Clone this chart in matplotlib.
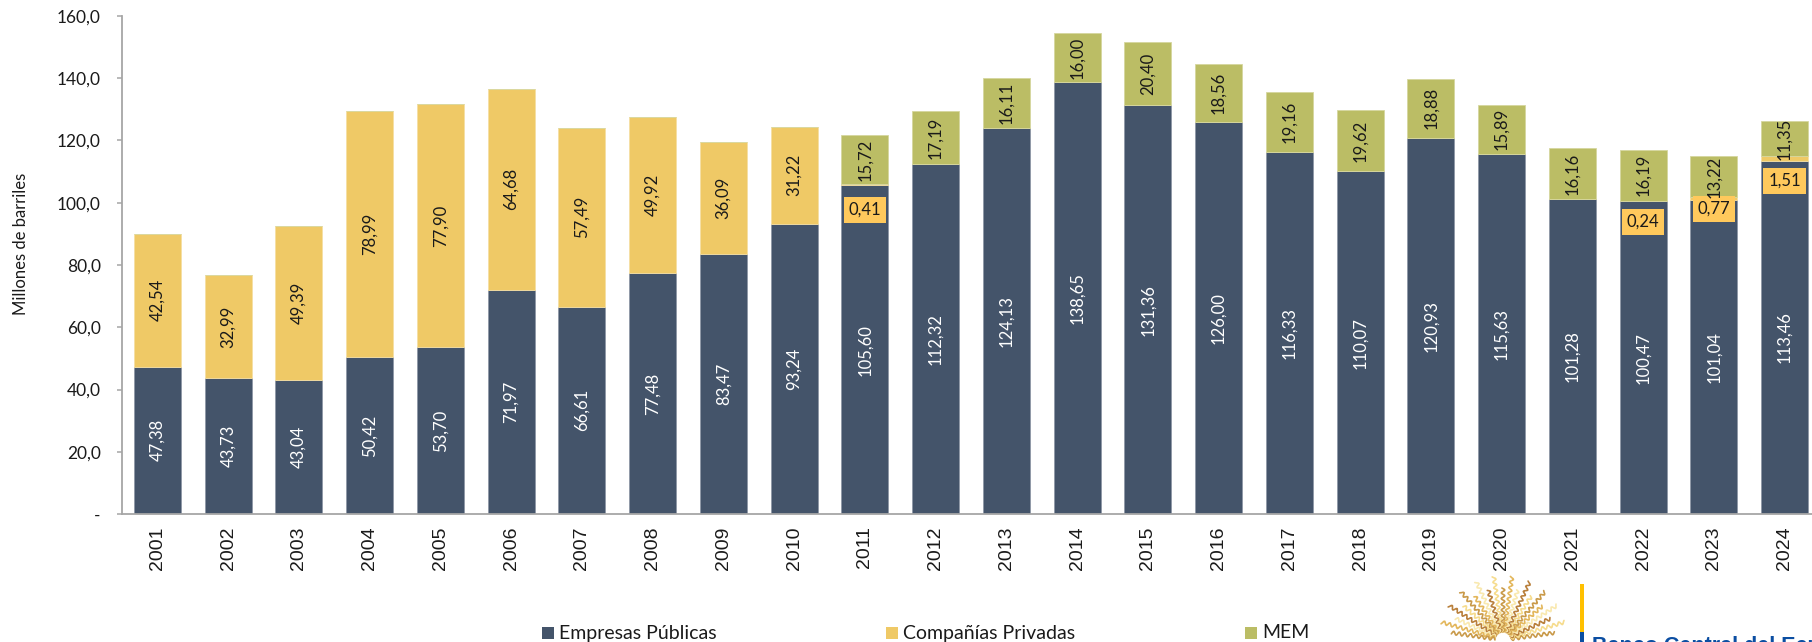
import numpy as np
import matplotlib
matplotlib.use("Agg")
import matplotlib.pyplot as plt
from matplotlib.patches import Rectangle

years = list(range(2001, 2025))
publicas = [47.38, 43.73, 43.04, 50.42, 53.70, 71.97, 66.61, 77.48, 83.47, 93.24, 105.60, 112.32,
            124.13, 138.65, 131.36, 126.00, 116.33, 110.07, 120.93, 115.63, 101.28, 100.47, 101.04, 113.46]
privadas = [42.54, 32.99, 49.39, 78.99, 77.90, 64.68, 57.49, 49.92, 36.09, 31.22, 0.41, 0,
            0, 0, 0, 0, 0, 0, 0, 0, 0, 0.24, 0.77, 1.51]
mem = [0, 0, 0, 0, 0, 0, 0, 0, 0, 0, 15.72, 17.19,
       16.11, 16.00, 20.40, 18.56, 19.16, 19.62, 18.88, 15.89, 16.16, 16.19, 13.22, 11.35]
# etiquetas chicas de privadas, van en caja abajo de la barra
caja_y = {2011: 97.7, 2022: 93.9, 2023: 98.0, 2024: 107.0}

COL_PUB = "#44546A"
COL_PRI = "#EFC966"
COL_MEM = "#BBBD65"
COL_CAJA = "#FFC95C"
GRIS = "#A6A6A6"
FUENTE = "Lato"

W, H = 1812, 642
fig = plt.figure(figsize=(W / 100, H / 100), dpi=100)
# el eje se pasa del borde derecho, el grafico original esta cortado
ax = fig.add_axes([122 / W, 1 - 514 / H, (1820 - 122) / W, (514 - 16) / H])

x = np.arange(len(years))
pub = np.array(publicas)
pri = np.array(privadas)
me = np.array(mem)
ancho = 0.665
ax.bar(x, pub, ancho, color=COL_PUB, edgecolor="#8E98A6", linewidth=0.6)
ax.bar(x, pri, ancho, bottom=pub, color=COL_PRI, edgecolor="#F5DFA3", linewidth=0.6)
ax.bar(x, me, ancho, bottom=pub + pri, color=COL_MEM, edgecolor="#D6D79F", linewidth=0.6)

ax.set_xlim(-0.5, len(years) - 0.5)
ax.set_ylim(0, 160)
ax.set_yticks(np.arange(0, 161, 20))
ax.set_yticklabels(["-"] + [("%.1f" % v).replace(".", ",") for v in np.arange(20, 161, 20)],
                   fontsize=12.5, family=FUENTE, color="#1A1A1A")
ax.set_xticks(x)
ax.set_xticklabels(years, rotation=90, fontsize=14, family="Liberation Sans", color="#1A1A1A")
ax.tick_params(axis="x", length=0, pad=8.8)
ax.tick_params(axis="y", length=3.8, width=1.1, color=GRIS, pad=11.5)
for s in ["top", "right"]:
    ax.spines[s].set_visible(False)
for s in ["left", "bottom"]:
    ax.spines[s].set_color(GRIS)
    ax.spines[s].set_linewidth(1.3)

fmt = lambda v: ("%.2f" % v).replace(".", ",")
for i, y in enumerate(years):
    ax.text(i, pub[i] / 2, fmt(pub[i]), rotation=90, ha="center", va="center",
            color="white", fontsize=12, family=FUENTE)
    if y in caja_y:
        ax.text(i, caja_y[y], fmt(pri[i]), ha="center", va="center", color="#1A1A1A", fontsize=12,
                family=FUENTE, zorder=5,
                bbox=dict(facecolor=COL_CAJA, edgecolor="none", pad=3.5))
    elif pri[i] > 0:
        ax.text(i, pub[i] + pri[i] / 2, fmt(pri[i]), rotation=90, ha="center", va="center",
                color="#1A1A1A", fontsize=12, family=FUENTE)
    if me[i] > 0:
        ax.text(i, pub[i] + pri[i] + me[i] / 2, fmt(me[i]), rotation=90, ha="center", va="center",
                color="#1A1A1A", fontsize=12, family=FUENTE, zorder=6)

fig.text(21 / W, 1 - 244 / H, "Millones de barriles", rotation=90, ha="center", va="center",
         fontsize=12, family=FUENTE, color="#1A1A1A")

# leyenda
leyenda = [("Empresas Públicas", COL_PUB, 542), ("Compañías Privadas", COL_PRI, 886), ("MEM", COL_MEM, 1245)]
for nombre, col, px in leyenda:
    fig.add_artist(Rectangle((px / W, 1 - 639 / H), 12 / W, 12 / H, transform=fig.transFigure,
                             facecolor=col, edgecolor="none"))
    fig.text((px + 17) / W, 1 - 633 / H, nombre, ha="left", va="center", fontsize=14,
             family=FUENTE, color="#1A1A1A")

# logo del banco, aproximado
logo = fig.add_axes([0, 0, 1, 1], facecolor="none")
logo.set_xlim(0, W)
logo.set_ylim(H, 0)
logo.axis("off")
cx, cy = 1503, 640
tonos = ["#C99A4A", "#F6DC8E", "#B9803C", "#F9E9B0", "#E3B75C"]
for k, ang in enumerate(np.linspace(8, 172, 21)):
    a = np.radians(ang)
    r = np.linspace(8, 64 if k % 2 else 52, 60)
    onda = 1.8 * np.sin(r * 1.1)
    logo.plot(cx + r * np.cos(a) - onda * np.sin(a), cy - r * np.sin(a) - onda * np.cos(a),
              color=tonos[k % 5], lw=1.2, solid_capstyle="round")
logo.add_patch(Rectangle((1580, 584), 4, 48, facecolor="#FFC000", edgecolor="none"))
logo.add_patch(Rectangle((1580, 632), 4, 10, facecolor="#0B4EA2", edgecolor="none"))
logo.text(1592, 636, "Banco Central del Ecuador", ha="left", va="top", fontsize=15.5, fontweight="bold",
          family="Liberation Sans", color="#0B4EA2", clip_on=True)

fig.savefig("out.png", dpi=100)
